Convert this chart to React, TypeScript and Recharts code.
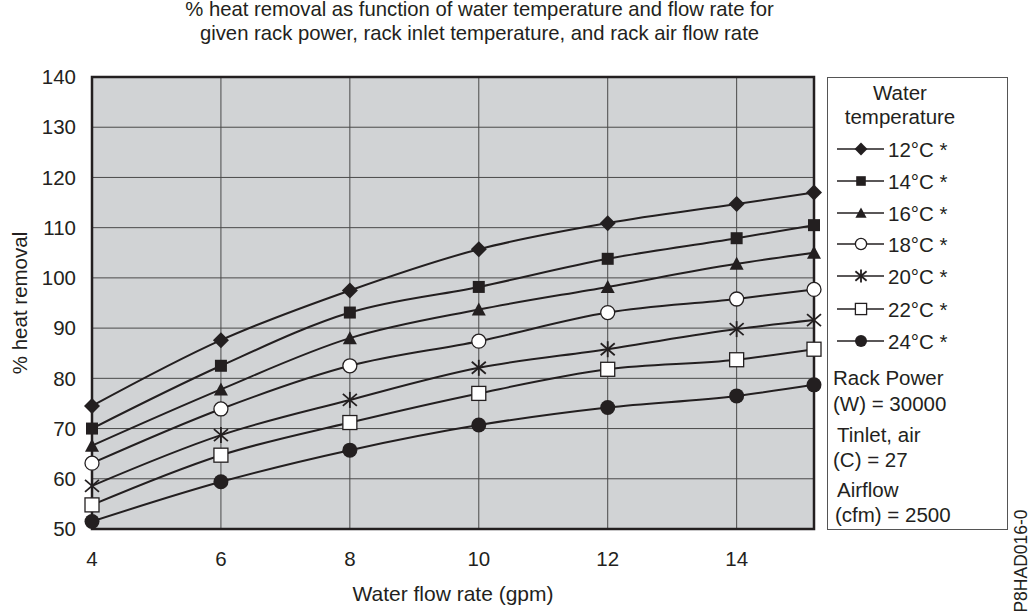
import React from 'react';
import {
  LineChart,
  Line,
  XAxis,
  YAxis,
  CartesianGrid,
  ReferenceArea,
  Legend,
} from 'recharts';

const FONT = '"Liberation Sans", Arial, Helvetica, sans-serif';
const INK = '#231f20';
const FS = 20.5;

// gpm
const flowRates = [4, 6, 8, 10, 12, 14, 15.2];

// % heat removal per water temperature
const temp12 = [74.5, 87.6, 97.5, 105.7, 110.9, 114.7, 117.0];
const temp14 = [70.0, 82.5, 93.1, 98.2, 103.8, 107.9, 110.5];
const temp16 = [66.6, 77.8, 88.0, 93.7, 98.2, 102.8, 105.0];
const temp18 = [63.1, 73.9, 82.5, 87.4, 93.1, 95.8, 97.7];
const temp20 = [58.6, 68.7, 75.7, 82.1, 85.8, 89.8, 91.6];
const temp22 = [54.8, 64.7, 71.2, 77.0, 81.8, 83.7, 85.8];
const temp24 = [51.5, 59.4, 65.7, 70.7, 74.2, 76.5, 78.7];

const xTicks = [4, 6, 8, 10, 12, 14];
const yTicks = [50, 60, 70, 80, 90, 100, 110, 120, 130, 140];

const seriesKeys = ['t12', 't14', 't16', 't18', 't20', 't22', 't24'];
const seriesNames = ['12°C *', '14°C *', '16°C *', '18°C *', '20°C *', '22°C *', '24°C *'];
const seriesShapes = ['diamond', 'square', 'triangle', 'circle', 'star', 'openSquare', 'dot'];
const seriesValues = [temp12, temp14, temp16, temp18, temp20, temp22, temp24];

const notes = ['Rack Power', '(W) = 30000', 'Tinlet, air', '(C) = 27', 'Airflow', '(cfm) = 2500'];

const data = flowRates.map((flow, i) => {
  const row: Record<string, number> = { flow };
  seriesKeys.forEach((k, s) => {
    row[k] = seriesValues[s][i];
  });
  return row;
});

function Marker({ shape, cx, cy, s = 1 }: { shape: string; cx: number; cy: number; s?: number }) {
  switch (shape) {
    case 'diamond':
      return (
        <polygon
          points={`${cx},${cy - 8 * s} ${cx + 8 * s},${cy} ${cx},${cy + 8 * s} ${cx - 8 * s},${cy}`}
          fill={INK}
        />
      );
    case 'square':
      return <rect x={cx - 6 * s} y={cy - 6 * s} width={12 * s} height={12 * s} fill={INK} />;
    case 'triangle':
      return (
        <polygon
          points={`${cx},${cy - 7 * s} ${cx + 7 * s},${cy + 6 * s} ${cx - 7 * s},${cy + 6 * s}`}
          fill={INK}
        />
      );
    case 'circle':
      return <circle cx={cx} cy={cy} r={7 * s} fill="#fff" stroke={INK} strokeWidth={1.3} />;
    case 'star':
      return (
        <g stroke={INK} strokeWidth={1.8}>
          <line x1={cx} y1={cy - 8 * s} x2={cx} y2={cy + 8 * s} />
          <line x1={cx - 7 * s} y1={cy - 6 * s} x2={cx + 7 * s} y2={cy + 6 * s} />
          <line x1={cx - 7 * s} y1={cy + 6 * s} x2={cx + 7 * s} y2={cy - 6 * s} />
        </g>
      );
    case 'openSquare':
      return (
        <rect
          x={cx - 7 * s}
          y={cy - 7 * s}
          width={14 * s}
          height={14 * s}
          fill="#fff"
          stroke={INK}
          strokeWidth={1.3}
        />
      );
    default:
      return <circle cx={cx} cy={cy} r={7.5 * s} fill={INK} />;
  }
}

const dotFor = (shape: string) => (p: any) =>
  p.cx == null ? <g key={p.index} /> : <Marker key={p.index} shape={shape} cx={p.cx} cy={p.cy} />;

const textStyle: React.CSSProperties = {
  position: 'absolute',
  fontFamily: FONT,
  fontSize: FS,
  color: INK,
  lineHeight: '24px',
  whiteSpace: 'nowrap',
};

// legend row tops (relative to legend box)
const entryTops = [60, 91.5, 124, 155, 187, 220, 251.5];
const noteTops = [288, 313.5, 345, 370, 400, 425];
const noteLefts = [5, 5, 9, 5, 9, 7];

function LegendBox() {
  return (
    <div
      style={{
        position: 'relative',
        width: 181,
        height: 453,
        border: '1px solid #555',
        boxSizing: 'border-box',
        background: '#fff',
      }}
    >
      <div style={{ ...textStyle, left: 0, width: 144, top: 3, textAlign: 'center' }}>Water</div>
      <div style={{ ...textStyle, left: 0, width: 144, top: 27, textAlign: 'center' }}>temperature</div>
      {seriesNames.map((name, i) => {
        const cy = entryTops[i] + 11.3;
        return (
          <React.Fragment key={name}>
            <svg width={50} height={20} style={{ position: 'absolute', left: 9, top: cy - 10 }}>
              <line x1={0} y1={10} x2={47} y2={10} stroke={INK} strokeWidth={1.5} />
              <Marker shape={seriesShapes[i]} cx={24} cy={10} s={0.8} />
            </svg>
            <div style={{ ...textStyle, left: 60, top: entryTops[i] }}>{name}</div>
          </React.Fragment>
        );
      })}
      {notes.map((t, i) => (
        <div key={t} style={{ ...textStyle, left: noteLefts[i], top: noteTops[i] }}>
          {t}
        </div>
      ))}
    </div>
  );
}

export default function App() {
  return (
    <div style={{ position: 'absolute', left: 0, top: 0, width: 1029, height: 613, background: '#fff' }}>
      <div
        style={{
          ...textStyle,
          left: 0,
          width: 959,
          top: -3,
          textAlign: 'center',
          fontSize: 20.3,
          lineHeight: '24px',
        }}
      >
        % heat removal as function of water temperature and flow rate for
        <br />
        given rack power, rack inlet temperature, and rack air flow rate
      </div>
      <LineChart
        width={1029}
        height={613}
        data={data}
        margin={{ top: 77, right: 215, bottom: 0, left: 0 }}
      >
        <CartesianGrid stroke="#4a4a4a" strokeWidth={1} fill="#d1d3d5" fillOpacity={1} />
        <XAxis
          type="number"
          dataKey="flow"
          domain={[4, 15.2]}
          ticks={xTicks}
          height={84}
          axisLine={false}
          tickLine={false}
          tickSize={0}
          tickMargin={22}
          tick={{ fill: INK, fontSize: FS, fontFamily: FONT }}
          label={{
            value: 'Water flow rate (gpm)',
            position: 'insideBottom',
            offset: 12,
            fill: INK,
            fontSize: 21,
            fontFamily: FONT,
          }}
        />
        <YAxis
          type="number"
          domain={[50, 140]}
          ticks={yTicks}
          width={92}
          axisLine={false}
          tickLine={false}
          tickSize={0}
          tickMargin={16}
          tick={{ fill: INK, fontSize: FS, fontFamily: FONT }}
          label={(props: any) => {
            const vb = props.viewBox || { x: 0, y: 77, height: 452 };
            const x = vb.x + 19;
            const y = vb.y + vb.height / 2;
            return (
              <text
                x={x}
                y={y}
                transform={`rotate(-90, ${x}, ${y})`}
                textAnchor="middle"
                dominantBaseline="central"
                fill={INK}
                fontSize={FS}
                fontFamily={FONT}
              >
                % heat removal
              </text>
            );
          }}
        />
        <ReferenceArea
          x1={4}
          x2={15.2}
          y1={50}
          y2={140}
          fill="none"
          stroke="#231f20"
          strokeWidth={2.5}
          ifOverflow="visible"
        />
        {seriesKeys.map((k, i) => (
          <Line
            key={k}
            type="monotone"
            dataKey={k}
            name={seriesNames[i]}
            stroke={INK}
            strokeWidth={2}
            dot={dotFor(seriesShapes[i])}
            activeDot={false}
            isAnimationActive={false}
          />
        ))}
        <Legend
          layout="vertical"
          align="center"
          verticalAlign="middle"
          wrapperStyle={{ left: 827, top: 77, width: 181, height: 453 }}
          content={() => <LegendBox />}
        />
      </LineChart>
      <div
        style={{
          ...textStyle,
          fontSize: 17.5,
          left: 1021,
          top: 561,
          transform: 'translate(-50%, -50%) rotate(-90deg)',
          lineHeight: '18px',
        }}
      >
        P8HAD016-0
      </div>
    </div>
  );
}
